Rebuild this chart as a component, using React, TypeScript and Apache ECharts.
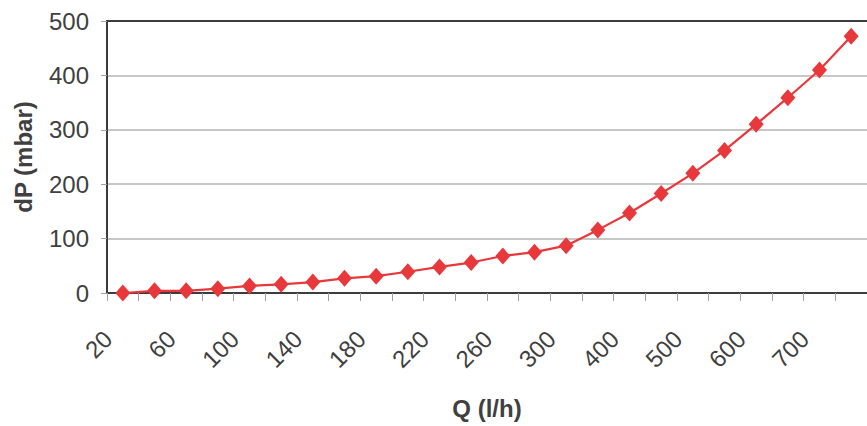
import { useEffect, useRef } from "react";
import * as echarts from "echarts";

const categories = [
  "20", "40", "60", "80", "100", "120", "140", "160", "180", "200", "220", "240",
  "260", "280", "300", "350", "400", "450", "500", "550", "600", "650", "700", "750",
];
const dpValues = [
  0, 4, 4, 8, 13, 16, 20, 27, 31, 39, 48, 56, 68, 75, 87, 116, 147, 183, 220, 262,
  310, 359, 410, 472,
];
const yMin = 0;
const yMax = 500;
const yStep = 100;
const xName = "Q (l/h)";
const yName = "dP (mbar)";

export default function App() {
  const ref = useRef<HTMLDivElement>(null);
  useEffect(() => {
    if (!ref.current) return;
    const chart = echarts.init(ref.current, undefined, { renderer: "svg" });
    const textColor = "#404040";
    const axisDark = "#3c3c3c";
    const font = "Liberation Sans, Arial, sans-serif";
    chart.setOption({
      animation: false,
      backgroundColor: "#ffffff",
      grid: { left: 107, top: 21, bottom: 133, right: -13, containLabel: false },
      xAxis: [
        {
          type: "category",
          data: categories,
          boundaryGap: true,
          position: "bottom",
          name: xName,
          nameLocation: "middle",
          nameGap: 103,
          nameTextStyle: { fontFamily: font, fontWeight: "bold", fontSize: 24, color: textColor },
          axisLine: { show: true, lineStyle: { color: axisDark, width: 2 } },
          axisTick: {
            show: true,
            alignWithLabel: false,
            interval: 0,
            length: 8,
            lineStyle: { color: "#a0a0a0", width: 1 },
          },
          axisLabel: {
            interval: 1,
            rotate: 45,
            margin: 27,
            padding: [0, 21, 0, 0],
            fontFamily: font,
            fontSize: 24,
            color: textColor,
          },
          splitLine: { show: false },
        },
        {
          type: "category",
          data: categories,
          position: "top",
          axisLine: { show: true, lineStyle: { color: axisDark, width: 2 } },
          axisTick: { show: false },
          axisLabel: { show: false },
          splitLine: { show: false },
        },
      ],
      yAxis: {
        type: "value",
        min: yMin,
        max: yMax,
        interval: yStep,
        name: yName,
        nameLocation: "middle",
        nameGap: 72,
        nameTextStyle: { fontFamily: font, fontWeight: "bold", fontSize: 24, color: textColor },
        axisLine: { show: true, lineStyle: { color: axisDark, width: 2 } },
        axisTick: { show: true, length: 6, lineStyle: { color: "#a0a0a0", width: 1 } },
        axisLabel: { margin: 18, fontFamily: font, fontSize: 24, color: textColor },
        splitLine: { show: true, lineStyle: { color: "#b4b4b4", width: 1.5 } },
      },
      series: [
        {
          type: "line",
          xAxisIndex: 0,
          data: dpValues,
          symbol: "diamond",
          symbolSize: [15, 17],
          lineStyle: { color: "#e8383b", width: 2.2 },
          itemStyle: { color: "#e8383b" },
          clip: false,
        },
      ],
    });
    return () => chart.dispose();
  }, []);
  return (
    <div
      ref={ref}
      style={{ position: "absolute", left: 0, top: 0, width: 867, height: 426, overflow: "hidden" }}
    />
  );
}
